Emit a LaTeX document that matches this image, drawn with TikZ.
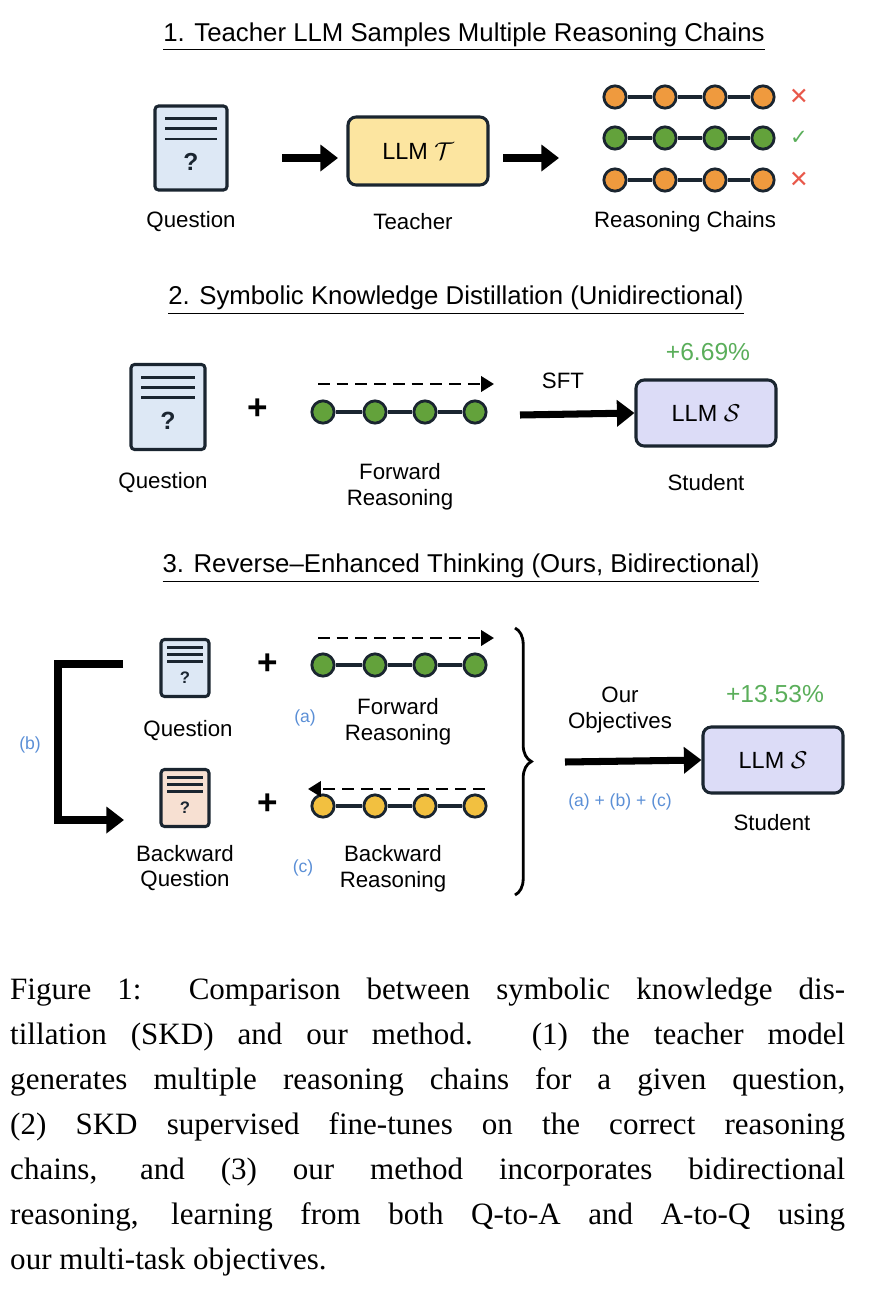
\documentclass[tikz,border=0pt]{standalone}
\usepackage{fontspec}
\usepackage{amsmath}
\setmainfont{Liberation Serif}
\setsansfont{Liberation Sans}
\newfontfamily\symfont{DejaVu Sans}
\usetikzlibrary{arrows.meta,decorations.pathreplacing}
\definecolor{ink}{HTML}{1A2530}
\definecolor{orangedot}{HTML}{EF9A3E}
\definecolor{greendot}{HTML}{63A23B}
\definecolor{yellowdot}{HTML}{F2C040}
\definecolor{docblue}{HTML}{DDE8F5}
\definecolor{docpeach}{HTML}{F7E0D2}
\definecolor{teacherfill}{HTML}{FCE5A0}
\definecolor{studentfill}{HTML}{DCDCF7}
\definecolor{labelblue}{HTML}{5B8FD6}
\definecolor{gaingreen}{HTML}{5AAE5A}
\definecolor{crossred}{HTML}{E8584A}

\tikzset{
  lbl/.style={font=\sffamily\fontsize{19}{22}\selectfont, inner sep=0pt, align=center},
  ttl/.style={font=\sffamily\fontsize{22}{26}\selectfont, inner sep=0pt},
  dot/.style={circle, draw=ink, line width=2.4pt, minimum size=19pt, inner sep=0pt},
  llmbox/.style={draw=ink, rounded corners=7pt, line width=2.6pt, inner sep=0pt,
                 font=\sffamily\fontsize{20}{24}\selectfont},
  bigarrow/.style={-{Triangle[length=15pt,width=22pt]}, line width=6pt},
  dasharrow/.style={-{Triangle[length=11pt,width=13pt]}, line width=2.4pt, dash pattern=on 10pt off 6pt},
  tag/.style={font=\sffamily\fontsize{15}{18}\selectfont, text=labelblue, inner sep=0pt},
}

% question sheet: name, x, y (centre), width, height, fill
\newcommand{\qdoc}[6]{%
  \node[draw=ink, line width=2.6pt, rounded corners=3pt, fill=#6,
        minimum width=#4*0.03cm, minimum height=#5*0.03cm, inner sep=0pt] (#1) at (#2,#3) {};
  \foreach \f in {0.17,0.29,0.41}
    \draw[ink, line width=2.4pt] ([xshift=#4*0.0048cm,yshift=-\f*#5*0.03cm]#1.north west)
                               -- ([xshift=-#4*0.0048cm,yshift=-\f*#5*0.03cm]#1.north east);
  \pgfmathsetmacro{\qsize}{#5*0.25}%
  \node[font=\sffamily\bfseries\fontsize{\qsize}{\qsize}\selectfont, text=ink, inner sep=0pt]
        at ([yshift=#5*0.0075cm]#1.south) [anchor=south] {?};
}

\begin{document}
\begin{tikzpicture}[x=0.03cm,y=-0.03cm]
\useasboundingbox (0,0) rectangle (876,1316);

%% part 1
\node[ttl] (t1) at (464,37) {\underline{1. Teacher LLM Samples Multiple Reasoning Chains}};
\qdoc{q1}{191}{148}{72}{84}{docblue}
\node[lbl] (q1l) at (191,222) {Question};
\node[llmbox, fill=teacherfill, minimum width=140*0.03cm, minimum height=68*0.03cm] (T) at (418,151) {LLM $\mathcal{T}$};
\node[lbl] (Tl) at (413,222) {Teacher};
\foreach \r/\y/\c in {1/97/orangedot,2/138/greendot,3/180/orangedot}{
  \foreach \i/\x in {1/615,2/665,3/715,4/763}
    \node[dot, fill=\c] (c\r\i) at (\x,\y) {};
  \draw[ink, line width=2.6pt] (c\r1) -- (c\r2) (c\r2) -- (c\r3) (c\r3) -- (c\r4);
}
\node[font=\symfont\fontsize{20}{22}\selectfont, text=crossred, inner sep=0pt] (m1) at (799,97) {✕};
\node[font=\symfont\fontsize{18}{22}\selectfont, text=gaingreen, inner sep=0pt] (m2) at (799,138) {✓};
\node[font=\symfont\fontsize{20}{22}\selectfont, text=crossred, inner sep=0pt] (m3) at (799,180) {✕};
\node[lbl] (cl) at (685,222) {Reasoning Chains};
\coordinate (a1s) at (282,158); \coordinate (a1e) at (338,158);
\coordinate (a2s) at (503,158); \coordinate (a2e) at (559,158);
\draw[bigarrow] (a1s) -- (a1e);
\draw[bigarrow] (a2s) -- (a2e);

%% part 2
\node[ttl] (t2) at (456,300) {\underline{2. Symbolic Knowledge Distillation (Unidirectional)}};
\qdoc{q2}{168}{407}{74}{85}{docblue}
\node[lbl] (q2l) at (163,483) {Question};
\node[font=\sffamily\bfseries\fontsize{30}{30}\selectfont, inner sep=0pt] (p2) at (258,409) {+};
\foreach \i/\x in {1/323,2/375,3/425,4/475}
  \node[dot, fill=greendot] (f\i) at (\x,412) {};
\draw[ink, line width=2.6pt] (f1) -- (f2) (f2) -- (f3) (f3) -- (f4);
\coordinate (d2s) at (318,384); \coordinate (d2e) at (494,384);
\draw[dasharrow] (d2s) -- (d2e);
\node[lbl] (f2l) at (400,487) {Forward\\Reasoning};
\node[lbl] (sft) at (563,381) {SFT};
\node[llmbox, fill=studentfill, minimum width=140*0.03cm, minimum height=66*0.03cm] (S1) at (706,413) {LLM $\mathcal{S}$};
\coordinate (a3s) at (520,415);
\draw[bigarrow] (a3s) -- (S1.west);
\node[lbl, text=gaingreen, font=\sffamily\fontsize{21}{24}\selectfont] (g1) at (708,352) {+6.69\%};
\node[lbl] (S1l) at (706,483) {Student};

%% part 3
\node[ttl] (t3) at (461,568) {\underline{3. Reverse--Enhanced Thinking (Ours, Bidirectional)}};
\qdoc{q3}{185}{668}{48}{57}{docblue}
\qdoc{q4}{185}{798}{48}{57}{docpeach}
\node[lbl] (q3l) at (188,731) {Question};
\node[lbl] (q4l) at (185,868) {Backward\\Question};
\node[font=\sffamily\bfseries\fontsize{30}{30}\selectfont, inner sep=0pt] (p3) at (268,664) {+};
\node[font=\sffamily\bfseries\fontsize{30}{30}\selectfont, inner sep=0pt] (p4) at (268,804) {+};
\foreach \i/\x in {1/323,2/375,3/425,4/475}{
  \node[dot, fill=greendot] (g\i) at (\x,665) {};
  \node[dot, fill=yellowdot] (y\i) at (\x,806) {};
}
\draw[ink, line width=2.6pt] (g1) -- (g2) (g2) -- (g3) (g3) -- (g4);
\draw[ink, line width=2.6pt] (y1) -- (y2) (y2) -- (y3) (y3) -- (y4);
\coordinate (d3s) at (318,638); \coordinate (d3e) at (494,638);
\coordinate (d4s) at (485,789); \coordinate (d4e) at (308,789);
\draw[dasharrow] (d3s) -- (d3e);
\draw[dasharrow] (d4s) -- (d4e);
\node[lbl] (f3l) at (398,722) {Forward\\Reasoning};
\node[lbl] (b3l) at (393,869) {Backward\\Reasoning};
\node[tag] (ta) at (305,718) {(a)};
\node[tag] (tc) at (303,868) {(c)};
\node[tag] (tb) at (30,745) {(b)};
\coordinate (bk1) at (123,664);
\coordinate (bk2) at (58,664);
\coordinate (bk3) at (58,820);
\coordinate (bk4) at (124,820);
\draw[line width=6pt, -{Triangle[length=15pt,width=22pt]}] (bk1) -- (bk2) -- (bk3) -- (bk4);
\coordinate (br1) at (515,628); \coordinate (br2) at (515,895);
\draw[line width=2.4pt, decorate, decoration={brace, amplitude=14pt}] (br1) -- (br2);
\node[lbl] (obj) at (620,710) {Our\\Objectives};
\node[llmbox, fill=studentfill, minimum width=140*0.03cm, minimum height=66*0.03cm] (S2) at (773,760) {LLM $\mathcal{S}$};
\coordinate (a4s) at (565,762);
\draw[bigarrow] (a4s) -- (S2.west);
\node[tag] (tabc) at (620,802) {(a) + (b) + (c)};
\node[lbl, text=gaingreen, font=\sffamily\fontsize{21}{24}\selectfont] (g2) at (775,694) {+13.53\%};
\node[lbl] (S2l) at (772,823) {Student};

%% caption
\node[anchor=north west, inner sep=0pt, text width=835*0.03cm, align=justify,
      font=\rmfamily\fontsize{26.5}{38.3}\selectfont] (cap) at (10,978)
  {Figure 1: Comparison between symbolic knowledge dis-\linebreak tillation (SKD) and our method. (1) the teacher model\linebreak generates multiple reasoning chains for a given question,\linebreak (2) SKD supervised fine-tunes on the correct reasoning\linebreak chains, and (3) our method incorporates bidirectional\linebreak reasoning, learning from both Q-to-A and A-to-Q using\linebreak our multi-task objectives.};
\end{tikzpicture}
\end{document}
